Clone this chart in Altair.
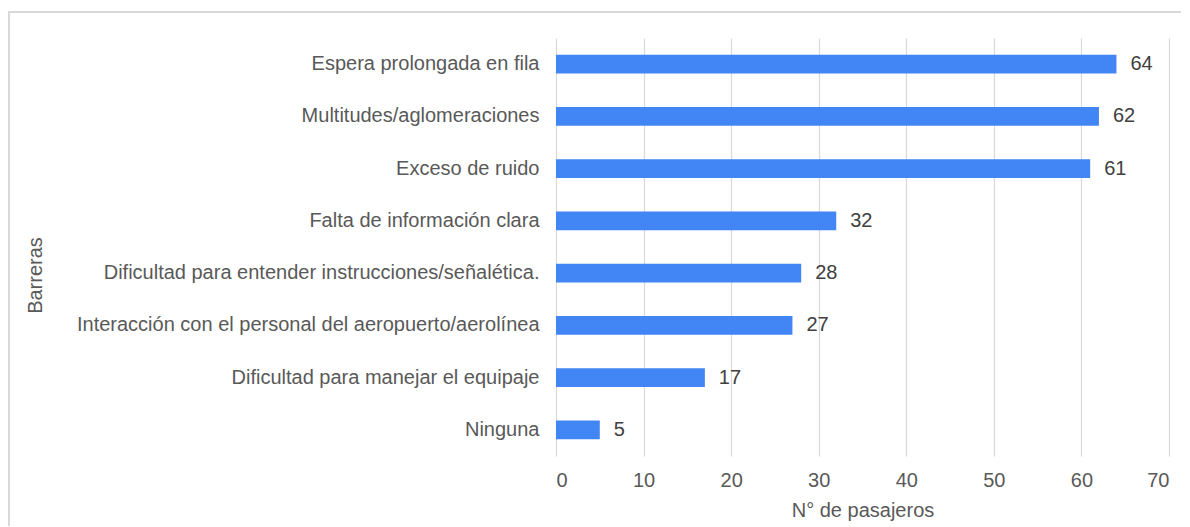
import altair as alt
import pandas as pd

categories = [
    "Espera prolongada en fila",
    "Multitudes/aglomeraciones",
    "Exceso de ruido",
    "Falta de información clara",
    "Dificultad para entender instrucciones/señalética.",
    "Interacción con el personal del aeropuerto/aerolínea",
    "Dificultad para manejar el equipaje",
    "Ninguna",
]
values = [64, 62, 61, 32, 28, 27, 17, 5]
x_ticks = [0, 10, 20, 30, 40, 50, 60, 70]

df = pd.DataFrame({"cat": categories, "val": values})

FONT = "Liberation Sans"
FS = 20

y_enc = alt.Y(
    "cat:N",
    sort=categories,
    scale=alt.Scale(paddingInner=0.64, paddingOuter=0.32),
    axis=alt.Axis(
        title="Barreras",
        titleFont=FONT,
        titleFontSize=FS,
        titleFontWeight="normal",
        titleColor="#595959",
        titleX=-521,
        titleY=237,
        titleAngle=-90,
        titleAlign="center",
        titleBaseline="middle",
        labelFont=FONT,
        labelFontSize=FS,
        labelColor="#595959",
        labelPadding=17,
        labelLimit=600,
        domain=False,
        ticks=False,
        grid=False,
    ),
)

x_enc = alt.X(
    "val:Q",
    scale=alt.Scale(domain=[0, 70], nice=False),
    axis=alt.Axis(
        values=x_ticks,
        title="N° de pasajeros",
        titleFont=FONT,
        titleFontSize=FS,
        titleFontWeight="normal",
        titleColor="#595959",
        titlePadding=10,
        labelFont=FONT,
        labelFontSize=FS,
        labelColor="#595959",
        labelPadding=14,
        domain=False,
        ticks=False,
        grid=True,
        gridColor="#d9d9d9",
        gridWidth=1.2,
    ),
)

frame = alt.Chart(df).mark_rect(
    filled=False, stroke="#d9d9d9", strokeWidth=1.5, clip=False
).encode(
    x=alt.value(-547),
    x2=alt.value(900),
    y=alt.value(-26),
    y2=alt.value(700),
)

bars = alt.Chart(df).mark_bar(color="#4285F4").encode(x=x_enc, y=y_enc)

labels = alt.Chart(df).mark_text(
    align="left", baseline="middle", dx=14, font=FONT, fontSize=FS, color="#404040"
).encode(x="val:Q", y=alt.Y("cat:N", sort=categories), text="val:Q")

chart = alt.layer(frame, bars, labels).properties(
    width=613,
    height=418,
    padding={"left": 548, "top": 30, "right": 12, "bottom": 70},
    autosize=alt.AutoSizeParams(type="none"),
).configure_view(stroke=None)

chart.save("out.html", embed_options={"renderer": "svg", "actions": False})
